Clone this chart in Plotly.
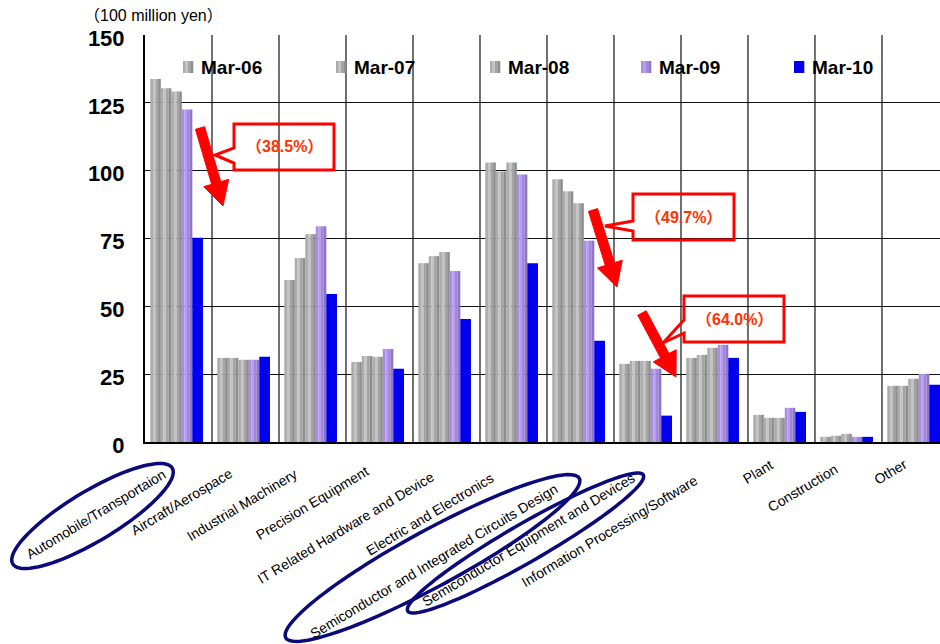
import math
import plotly.graph_objects as go

# ---- data (100 million yen) ----
categories = [
    "Automobile/Transportaion",
    "Aircraft/Aerospace",
    "Industrial Machinery",
    "Precision Equipment",
    "IT Related Hardware and Device",
    "Electric and Electronics",
    "Semiconductor and Integrated Circuits Design",
    "Semiconductor Equipment and Devices",
    "Information Processing/Software",
    "Plant",
    "Construction",
    "Other",
]
mar06 = [133.8, 31.0, 59.7, 29.5, 65.9, 103.0, 96.8, 28.8, 31.0, 10.0, 1.9, 20.7]
mar07 = [130.4, 31.0, 67.8, 31.7, 68.5, 99.7, 92.4, 29.9, 32.1, 8.9, 2.3, 20.7]
mar08 = [129.2, 30.3, 76.6, 31.4, 70.0, 103.0, 88.0, 29.9, 34.7, 8.9, 3.0, 23.3]
mar09 = [122.5, 30.3, 79.5, 34.3, 63.0, 98.6, 74.2, 27.0, 35.8, 12.6, 1.9, 25.1]
mar10 = [75.3, 31.4, 54.5, 27.0, 45.3, 65.9, 37.3, 9.72, 31.0, 11.1, 1.9, 21.1]
series_names = ["Mar-06", "Mar-07", "Mar-08", "Mar-09", "Mar-10"]
y_ticks = [0, 25, 50, 75, 100, 125, 150]
y_unit = "（100 million yen）"
# categories whose Mar-09 -> Mar-10 drop is called out
callout_idx = [0, 6, 7]

# ---- page geometry (pixels) ----
W, H = 940, 644
ML, MT, MB, MR = 145, 35, 202, 0
PW, PH = W - ML - MR, H - MT - MB


def fx(px):
    return (px - ML) / PW


def fy(py):
    return (H - MB - py) / PH


def path_from(points, close=True):
    s = "M " + " L ".join(f"{fx(x):.5f},{fy(y):.5f}" for x, y in points)
    return s + (" Z" if close else "")


# ---- bars: shaded cylinders built from thin stripes ----
grey_shades = ["#ABABAB", "#C4C4C4", "#A4A4A4", "#8E8E8E"]
purple_shades = ["#A88DE0", "#B79DEC", "#A086D8", "#8F75C8"]
blue_shades = ["#0000EE"]
series_vals = [mar06, mar07, mar08, mar09, mar10]
series_shades = [grey_shades, grey_shades, grey_shades, purple_shades, blue_shades]

bar_w = 0.1567
start = -0.421
x_idx = list(range(len(categories)))

fig = go.Figure()
for s, (name, vals, shades) in enumerate(zip(series_names, series_vals, series_shades)):
    n = len(shades)
    sw = bar_w / n
    for k, col in enumerate(shades):
        fig.add_trace(go.Bar(
            x=x_idx, y=vals,
            name=name,
            showlegend=False,
            marker=dict(color=col, line=dict(width=0)),
            offset=start + s * bar_w + k * sw,
            width=sw * 1.02,
            hovertemplate=f"{name}<br>%{{y}}<extra></extra>",
        ))

shapes = []
annotations = []
sans = "Liberation Sans, Arial, sans-serif"

# ---- legend strip across the top of the plot ----
shapes.append(dict(type="rect", xref="paper", yref="paper",
                   x0=fx(172), x1=1, y0=fy(83), y1=fy(50),
                   fillcolor="white", line=dict(width=0), layer="between"))
legend_x = [183, 336, 490, 641, 794]
for lx, name, shades in zip(legend_x, series_names, series_shades):
    n = len(shades)
    seg = 10 / n
    for k, col in enumerate(shades):
        shapes.append(dict(type="rect", xref="paper", yref="paper",
                           x0=fx(lx + k * seg), x1=fx(lx + (k + 1) * seg + 0.3),
                           y0=fy(73), y1=fy(61),
                           fillcolor=col, line=dict(width=0), layer="above"))
    annotations.append(dict(
        x=fx(lx + 16), y=fy(67), xref="paper", yref="paper",
        xanchor="left", yanchor="middle", text=name, showarrow=False,
        font=dict(family=sans, size=19, color="#000000", weight="bold"),
    ))

# ---- callouts: red outline boxes with a pointer wedge, plus thick arrows ----
callout_boxes = [
    # (box left, top, right, bottom, wedge y1, wedge y2, tip x, tip y)
    (234, 124, 334, 170, 148, 163, 215, 155),
    (633, 194, 734, 240, 221, 231, 605, 226),
    (684, 296, 784, 342, 320, 333, 663, 343),
]
arrows = [
    ((200, 128), (223, 206)),
    ((593, 210), (617, 287)),
    ((642, 313), (676, 377)),
]


def arrow_poly(tail, tip, shaft=9.5, head_w=26, head_len=24):
    dx, dy = tip[0] - tail[0], tip[1] - tail[1]
    L = math.hypot(dx, dy)
    ux, uy = dx / L, dy / L
    nx, ny = -uy, ux
    bx, by = tip[0] - ux * head_len, tip[1] - uy * head_len
    return [
        (tail[0] + nx * shaft / 2, tail[1] + ny * shaft / 2),
        (bx + nx * shaft / 2, by + ny * shaft / 2),
        (bx + nx * head_w / 2, by + ny * head_w / 2),
        tip,
        (bx - nx * head_w / 2, by - ny * head_w / 2),
        (bx - nx * shaft / 2, by - ny * shaft / 2),
        (tail[0] - nx * shaft / 2, tail[1] - ny * shaft / 2),
    ]


for i, (l, t, r, b, w1, w2, tx, ty) in zip(callout_idx, callout_boxes):
    pts = [(l, t), (r, t), (r, b), (l, b), (l, w2), (tx, ty), (l, w1)]
    shapes.append(dict(type="path", xref="paper", yref="paper",
                       path=path_from(pts), line=dict(color="#FF0000", width=3),
                       fillcolor="rgba(0,0,0,0)"))
    drop = (1 - mar10[i] / mar09[i]) * 100
    annotations.append(dict(
        x=fx((l + r) / 2), y=fy((t + b) / 2), xref="paper", yref="paper",
        xanchor="center", yanchor="middle",
        text=f"（{drop:.1f}%）", showarrow=False,
        font=dict(family="Liberation Sans, Noto Sans CJK JP", size=16, color="#FF3300",
                  weight="bold"),
    ))

for tail, tip in arrows:
    shapes.append(dict(type="path", xref="paper", yref="paper",
                       path=path_from(arrow_poly(tail, tip)),
                       line=dict(color="#FF0000", width=1), fillcolor="#FF0000"))

# ---- slanted category labels under the axis ----
label_centers = [
    (96, 514), (181, 502), (241.5, 504.5), (312, 503), (345, 527.5), (430, 514),
    (434, 561), (528, 540), (609.5, 530.5), (757.5, 472), (802.5, 487.5), (890, 472),
]
for text, (cx, cy) in zip(categories, label_centers):
    annotations.append(dict(
        x=fx(cx), y=fy(cy), xref="paper", yref="paper",
        xanchor="center", yanchor="middle", textangle=-31,
        text=text, showarrow=False,
        font=dict(family=sans, size=14, color="#000000"),
    ))

# ---- navy ellipses highlighting category labels ----
ellipses = [
    # (cx, cy, a, b, angle deg)
    (92.5, 516, 93, 25, 31),
    (432.5, 558, 167, 28, 28.5),
    (525.5, 543, 136, 19, 30),
]
for cx, cy, a, b, ang in ellipses:
    th = math.radians(ang)
    pts = []
    for j in range(121):
        t = 2 * math.pi * j / 120
        ex = a * math.cos(t)
        ey = b * math.sin(t)
        pts.append((cx + ex * math.cos(th) - ey * math.sin(th),
                    cy - (ex * math.sin(th) + ey * math.cos(th))))
    shapes.append(dict(type="path", xref="paper", yref="paper",
                       path=path_from(pts), line=dict(color="#0A0A7A", width=3.5),
                       fillcolor="rgba(0,0,0,0)"))

# unit label above the value axis
annotations.append(dict(
    x=fx(153), y=fy(15), xref="paper", yref="paper", xanchor="center", yanchor="middle",
    text=y_unit, showarrow=False,
    font=dict(family="Liberation Sans, Noto Sans CJK JP", size=16, color="#000000"),
))

fig.update_layout(
    width=W, height=H,
    margin=dict(l=ML, r=MR, t=MT, b=MB, pad=0),
    paper_bgcolor="white", plot_bgcolor="white",
    barmode="overlay",
    showlegend=False,
    xaxis=dict(
        type="linear",
        range=[-0.5, 11.366],
        tickmode="array", tickvals=x_idx, showticklabels=False,
        showgrid=False,
        showline=True, linecolor="#000000", linewidth=2,
        ticks="", zeroline=False,
    ),
    yaxis=dict(
        range=[0, 150],
        tickmode="array", tickvals=y_ticks, ticktext=[str(v) for v in y_ticks],
        tickfont=dict(family=sans, size=22, color="#000000", weight="bold"),
        ticklabelstandoff=14, ticklabelshift=3,
        showgrid=True, gridcolor="#111111", gridwidth=1.2,
        showline=True, linecolor="#000000", linewidth=2,
        ticks="", zeroline=False,
    ),
    shapes=shapes,
    annotations=annotations,
)

# category boundary lines (vertical grid)
for k in range(len(categories)):
    fig.add_vline(x=k + 0.5, line=dict(color="#111111", width=1.2), layer="below")

fig.write_html("out.html")
